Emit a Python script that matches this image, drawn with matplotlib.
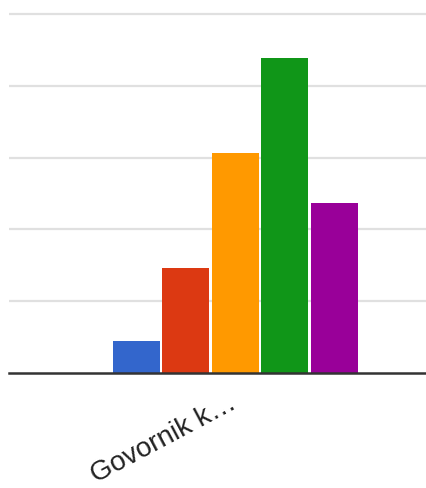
import numpy as np
import matplotlib.pyplot as plt

plt.rcParams['font.family'] = ['Liberation Sans', 'DejaVu Sans']

# data
series = ['s1', 's2', 's3', 's4', 's5']
values = [0.45, 1.46, 3.07, 4.39, 2.37]
colors = ['#3366cc', '#dc3912', '#ff9900', '#109618', '#990099']
category = 'Govornik k\u2026'

fig = plt.figure(figsize=(4.26, 4.88), dpi=100)
ax = fig.add_axes([9 / 426, 1 - 373 / 488, 1 - 9 / 426, (373 - 10) / 488])

x = np.arange(len(values))
ax.bar(x, values, width=0.95, color=colors, zorder=3)

ax.set_xlim(-2.576, 5.85)
ax.set_ylim(0, 5 + 4 / 71.7)
ax.set_yticks([1, 2, 3, 4, 5])
ax.yaxis.grid(True, color='#e0e0e0', linewidth=1.6, zorder=0)
ax.tick_params(axis='y', length=0, labelleft=False)
ax.set_xticks([2.05])
ax.set_xticklabels([category], rotation=28, ha='right', va='baseline',
                   rotation_mode='anchor', fontsize=20, color='#222222')
ax.tick_params(axis='x', length=0, pad=25)

for side in ['top', 'right', 'left']:
    ax.spines[side].set_visible(False)
ax.spines['bottom'].set_color('#333333')
ax.spines['bottom'].set_linewidth(1.8)
ax.spines['bottom'].set_zorder(4)

fig.savefig('out.png', dpi=100)
